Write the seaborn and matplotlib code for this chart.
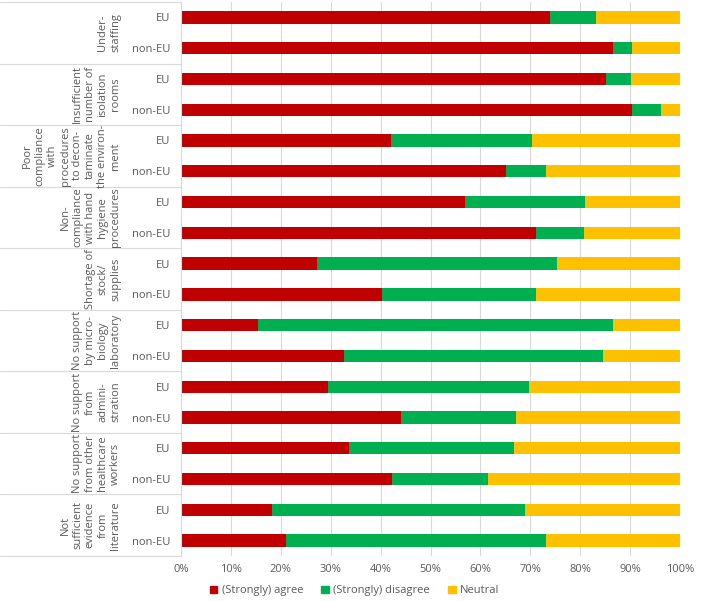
import pandas as pd
import matplotlib.pyplot as plt
import matplotlib.patches as mpatches
import matplotlib.transforms as mtrans
import seaborn as sns

# data (percent of respondents)
groups = ["Under-\nstaffing",
          "Insufficient\nnumber of\nisolation\nrooms",
          "Poor\ncompliance\nwith\nprocedures\nto decon-\ntaminate\nthe environ-\nment",
          "Non-\ncompliance\nwith hand\nhygiene\nprocedures",
          "Shortage of\nstock/\nsupplies",
          "No support\nby micro-\nbiology\nlaboratory",
          "No support\nfrom\nadmini-\nstration",
          "No support\nfrom other\nhealthcare\nworkers",
          "Not\nsufficient\nevidence\nfrom\nliterature"]
regions = ["EU", "non-EU"]
agree = [73.9, 86.5, 85.2, 90.4, 42.1, 65.2, 57.0, 71.1, 27.3, 40.2,
         15.4, 32.6, 29.5, 44.1, 33.7, 42.2, 18.2, 21.1]
disagree = [9.2, 3.9, 4.9, 5.7, 28.2, 7.9, 24.0, 9.6, 48.0, 30.9,
            71.2, 51.9, 40.2, 23.1, 33.1, 19.3, 50.8, 52.0]

series = ["(Strongly) agree", "(Strongly) disagree", "Neutral"]
colors = ["#C00000", "#00B050", "#FFC000"]

rows = [f"{g}|{r}" for g in groups for r in regions]
df = pd.DataFrame({"row": rows, "agree": agree, "disagree": disagree})
df["neutral"] = 100 - df["agree"] - df["disagree"]
df["c_dis"] = df["agree"] + df["disagree"]
df["c_neu"] = df["c_dis"] + df["neutral"]

sns.set_style("white")
plt.rcParams["font.family"] = ["Open Sans", "DejaVu Sans"]
fig = plt.figure(figsize=(7.09, 6.01), dpi=100)
ax = fig.add_axes([181 / 709, 45 / 601, 499 / 709, 554 / 601])

# stacked bars drawn as layered cumulative totals
for col, c in zip(["c_neu", "c_dis", "agree"], colors[::-1]):
    sns.barplot(data=df, x=col, y="row", order=rows, orient="h", color=c,
                saturation=1, width=0.4, linewidth=0, ax=ax)

ax.set_xlim(0, 100)
ax.set_ylim(len(rows) - 0.5, -0.5)
ax.set_xticks(range(0, 101, 10))
ax.set_xticklabels([f"{t}%" for t in range(0, 101, 10)], fontsize=8, color="#595959")
ax.set_yticks(range(len(rows)))
ax.set_yticklabels(regions * len(groups), fontsize=8, color="#595959")
ax.tick_params(axis="y", length=0, pad=8)
ax.tick_params(axis="x", length=0, pad=6)
ax.set_xlabel("")
ax.set_ylabel("")
ax.grid(axis="x", color="#D9D9D9", linewidth=0.8)
ax.set_axisbelow(True)
for s in ["top", "right", "bottom"]:
    ax.spines[s].set_visible(False)
ax.spines["left"].set_color("#D9D9D9")

# multi-level category labels
tr = mtrans.blended_transform_factory(ax.transAxes, ax.transData)
left = -181 / 499
for i, g in enumerate(groups):
    y0 = 2 * i - 0.5
    ax.plot([left, 0], [y0, y0], transform=tr, color="#D9D9D9", lw=0.8, clip_on=False)
    ax.text(-60 / 499, 2 * i + 0.5, g, transform=tr, rotation=90, ha="right", va="center",
            multialignment="center", fontsize=8, color="#595959", linespacing=1.2)
ax.plot([left, 0], [len(rows) - 0.5] * 2, transform=tr, color="#D9D9D9", lw=0.8, clip_on=False)

handles = [mpatches.Patch(color=c, label=s) for s, c in zip(series, colors)]
fig.legend(handles=handles, loc="center", bbox_to_anchor=(0.5, 0.017), ncol=3,
           frameon=False, fontsize=8, handlelength=0.7, handleheight=0.7,
           handletextpad=0.4, columnspacing=1.6, labelcolor="#595959")

fig.savefig("out.png", dpi=100)
